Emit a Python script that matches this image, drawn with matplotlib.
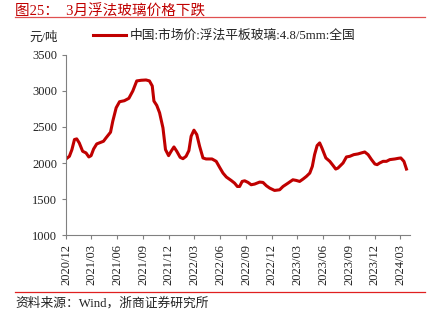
import matplotlib
matplotlib.use("Agg")
import matplotlib.pyplot as plt
import matplotlib.dates as mdates
import pandas as pd
from matplotlib.lines import Line2D

plt.rcParams["font.family"] = ["Liberation Serif", "Noto Sans CJK SC"]

DATES = [
    "2020-12-01", "2020-12-13", "2020-12-22", "2020-12-31", "2021-01-08", "2021-01-17",
    "2021-01-29", "2021-02-10", "2021-02-20", "2021-02-28", "2021-03-09", "2021-03-20",
    "2021-04-04", "2021-04-13", "2021-04-22", "2021-05-08", "2021-05-16", "2021-05-28",
    "2021-06-09", "2021-06-26", "2021-07-12", "2021-07-26", "2021-08-09", "2021-08-25",
    "2021-09-11", "2021-09-23", "2021-10-03", "2021-10-09", "2021-10-19", "2021-10-29",
    "2021-11-10", "2021-11-19", "2021-11-30", "2021-12-09", "2021-12-19", "2021-12-29",
    "2022-01-10", "2022-01-20", "2022-01-31", "2022-02-10", "2022-02-18", "2022-02-28",
    "2022-03-10", "2022-03-20", "2022-04-01", "2022-04-12", "2022-05-03", "2022-05-18",
    "2022-05-30", "2022-06-11", "2022-06-23", "2022-07-10", "2022-07-22", "2022-08-01",
    "2022-08-09", "2022-08-18", "2022-08-27", "2022-09-08", "2022-09-19", "2022-10-01",
    "2022-10-19", "2022-10-31", "2022-11-12", "2022-11-24", "2022-12-11", "2022-12-29",
    "2023-01-10", "2023-01-28", "2023-02-14", "2023-02-26", "2023-03-10", "2023-03-22",
    "2023-04-03", "2023-04-15", "2023-04-24", "2023-05-02", "2023-05-11", "2023-05-20",
    "2023-05-28", "2023-06-11", "2023-06-25", "2023-07-07", "2023-07-16", "2023-07-24",
    "2023-08-11", "2023-08-23", "2023-09-04", "2023-09-18", "2023-10-03", "2023-10-15",
    "2023-10-27", "2023-11-08", "2023-11-20", "2023-12-02", "2023-12-10", "2023-12-19",
    "2023-12-31", "2024-01-12", "2024-01-24", "2024-02-11", "2024-02-23", "2024-03-03",
    "2024-03-14", "2024-03-23",
]
PRICE = [
    2056, 2093, 2186, 2326, 2335, 2279,
    2163, 2140, 2084, 2102, 2195, 2265,
    2288, 2302, 2349, 2428, 2581, 2767,
    2851, 2865, 2898, 3000, 3140, 3149,
    3153, 3140, 3070, 2860, 2800, 2698,
    2488, 2186, 2102, 2163, 2223, 2163,
    2079, 2060, 2093, 2172, 2372, 2456,
    2395, 2233, 2070, 2056, 2056, 2023,
    1940, 1860, 1805, 1758, 1721, 1674,
    1674, 1744, 1753, 1730, 1698, 1707,
    1735, 1730, 1684, 1651, 1619, 1628,
    1674, 1721, 1767, 1758, 1744, 1777,
    1814, 1860, 1953, 2116, 2242, 2279,
    2209, 2070, 2023, 1963, 1916, 1930,
    2000, 2084, 2093, 2116, 2126, 2140,
    2153, 2116, 2047, 1986, 1977, 2000,
    2023, 2023, 2047, 2056, 2065, 2070,
    2023, 1916,
]
SERIES = "中国:市场价:浮法平板玻璃:4.8/5mm:全国"
TITLE = "图25：  3月浮法玻璃价格下跌"
SOURCE = "资料来源：Wind，浙商证券研究所"

dates = pd.to_datetime(DATES)

fig = plt.figure(figsize=(4.38, 3.25), dpi=100)
ax = fig.add_axes([0.1507, 0.2769, 0.785, 0.5539])
ax.plot(dates, PRICE, color="#c00000", lw=2.2, solid_joinstyle="round")

ax.set_ylim(1000, 3500)
ax.set_yticks(range(1000, 3501, 500))
ax.set_xlim(pd.Timestamp("2020-12-01"), pd.Timestamp("2024-04-04"))
ax.xaxis.set_major_locator(mdates.MonthLocator(bymonth=[3, 6, 9, 12]))
ax.xaxis.set_major_formatter(mdates.DateFormatter("%Y/%m"))
for s in ("top", "right"):
    ax.spines[s].set_visible(False)
for s in ("left", "bottom"):
    ax.spines[s].set_color("#808080")
    ax.spines[s].set_linewidth(0.8)
ax.tick_params(axis="both", colors="#808080", labelcolor="#222222",
               labelsize=9, length=3, width=0.8)
ax.tick_params(axis="x", labelrotation=90)

fig.text(0.035, 0.965, TITLE, color="#c00000", fontsize=10.5, va="center")
fig.add_artist(Line2D([0.035, 0.97], [0.947, 0.947], color="#e05050", lw=0.9))
fig.add_artist(Line2D([0.035, 0.97], [0.102, 0.102], color="#e02020", lw=0.9))
fig.text(0.035, 0.068, SOURCE, fontsize=9.2, va="center", color="#222222")

fig.text(0.068, 0.885, "元/吨", fontsize=9, va="center", color="#222222")
fig.add_artist(Line2D([0.212, 0.288], [0.892, 0.892], color="#c00000", lw=2.2))
fig.text(0.297, 0.892, SERIES, fontsize=9.2, va="center", color="#222222")

fig.savefig("out.png", dpi=100)
